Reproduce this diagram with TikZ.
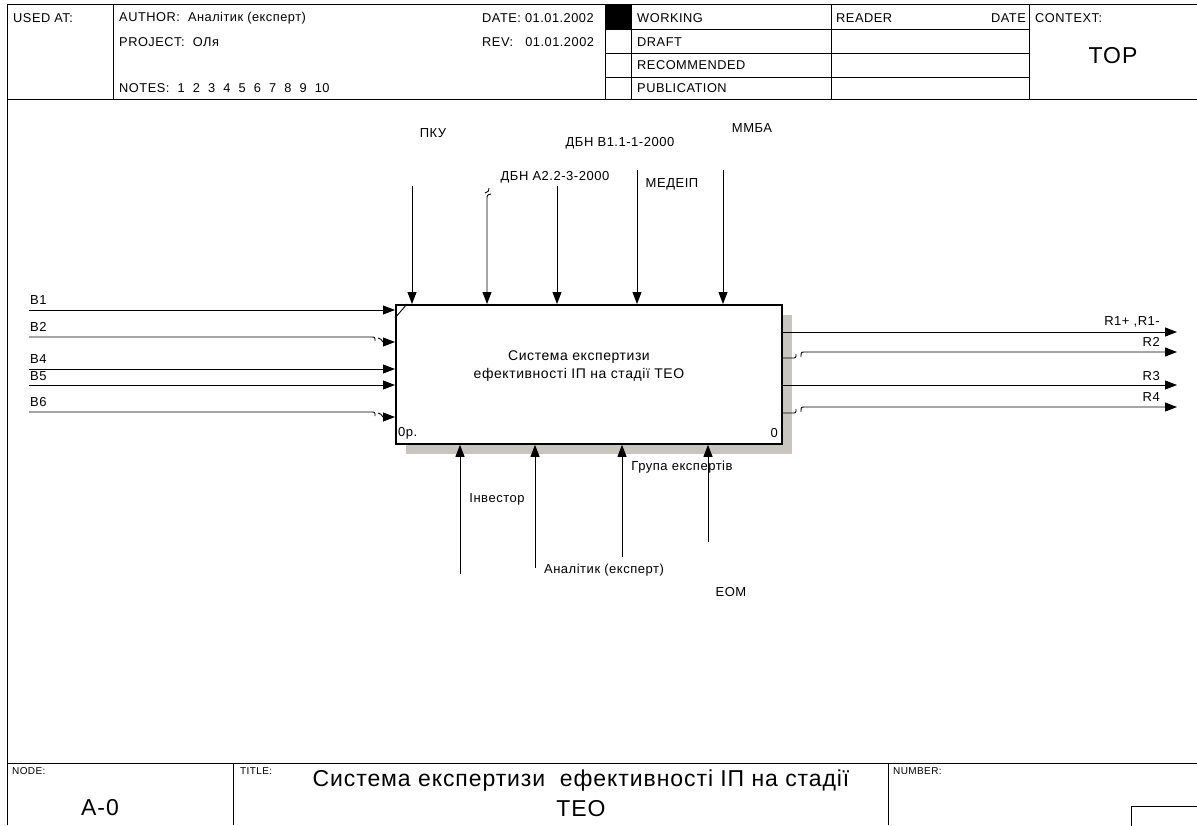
\documentclass[tikz,border=0pt]{standalone}
\usepackage{fontspec}
\setmainfont{Liberation Sans}[LetterSpace=4]
\usetikzlibrary{arrows.meta}
\definecolor{shadowgray}{RGB}{200,196,190}
\tikzset{
  sheet/.style = {draw=black, line width=0.8pt},
  afunc/.style = {draw=black, line width=1.8pt, fill=white, minimum width=386pt,
                  minimum height=139pt, inner sep=0pt, anchor=north west},
  flow/.style  = {-{Triangle[length=12pt,width=9pt]}, draw=black, line width=0.9pt},
  wire/.style  = {draw=black, line width=0.9pt},
  hdr/.style   = {font=\fontsize{12.8}{15}\selectfont, inner sep=0pt},
  alab/.style  = {font=\fontsize{13}{15}\selectfont, inner sep=0pt},
  flab/.style  = {font=\fontsize{10}{12}\selectfont, inner sep=0pt, anchor=west},
  big/.style   = {font=\fontsize{23}{30}\selectfont, inner sep=0pt},
}
\begin{document}
\begin{tikzpicture}[x=1pt, y=-1pt]
\useasboundingbox (0,0) rectangle (1197,825);

% ---------------- the sheet and its header ----------------------------
\draw[sheet] (7,825) -- (7,4) -- (1197,4);
\draw[sheet] (7,99) -- (1197,99);
\foreach \x in {113,605,631,831,1029}
  \draw[sheet] (\x,4) -- (\x,99);
\foreach \y in {29,53,77}
  \draw[sheet] (605,\y) -- (1029,\y);
\fill[black] (605,4) rectangle (631,29);

\node[hdr, anchor=west] (usedat)  at (13,18)  {USED AT:};
\node[hdr, anchor=west] (author)  at (119,18) {AUTHOR:\ \ Аналітик (експерт)};
\node[hdr, anchor=west] (project) at (119,42) {PROJECT:\ \ ОЛя};
\node[hdr, anchor=west] (notes)   at (119,88) {NOTES:\ \ 1\ \ 2\ \ 3\ \ 4\ \ 5\ \ 6\ \ 7\ \ 8\ \ 9\ \ 10};
\node[hdr, anchor=west] (date)    at (482,18) {DATE: 01.01.2002};
\node[hdr, anchor=west] (rev)     at (482,42) {REV:\ \ \ 01.01.2002};
\node[hdr, anchor=west] (working) at (637,18) {WORKING};
\node[hdr, anchor=west] (draft)   at (637,42) {DRAFT};
\node[hdr, anchor=west] (recomm)  at (637,65) {RECOMMENDED};
\node[hdr, anchor=west] (publ)    at (637,88) {PUBLICATION};
\node[hdr, anchor=west] (reader)  at (836,18) {READER};
\node[hdr, anchor=east] (rdate)   at (1026,18) {DATE};
\node[hdr, anchor=west] (context) at (1035,18) {CONTEXT:};
\node[big] (top) at (1113,56) {TOP};

% ---------------- the function box ------------------------------------
\fill[shadowgray] (406,315) rectangle (792,454);
\node[afunc] (func) at (395,304) {};
\draw[wire] ([yshift=-14pt]func.north west) -- ([xshift=12pt]func.north west);
\node[font=\fontsize{14}{18}\selectfont, align=center, inner sep=0pt] (ftext) at (579,366)
  {Система експертизи\\ефективності ІП на стадії ТЕО};
\node[alab, anchor=west] (fnum)  at (398,433) {0р.};
\node[alab, anchor=east] (fcost) at (778,433) {0};

% ---------------- inputs ----------------------------------------------
\foreach \n/\y in {1/310,4/369,5/385} {
  \coordinate (b\n) at (29,\y);
  \draw[flow] (b\n) -- (b\n -| func.west);
}
\coordinate (b2) at (29,337);
\coordinate (b2e) at (383,342);
\draw[wire] (b2) -- (371,337) .. controls (375,337) .. (375,341);
\draw[flow] (378,338) .. controls (381,339) .. (b2e) -- (b2e -| func.west);
\coordinate (b6) at (29,412);
\coordinate (b6e) at (383,417);
\draw[wire] (b6) -- (371,412) .. controls (375,412) .. (375,416);
\draw[flow] (378,413) .. controls (381,414) .. (b6e) -- (b6e -| func.west);

\node[alab, anchor=west] (lb1) at (30,300) {B1};
\node[alab, anchor=west] (lb2) at (30,327) {B2};
\node[alab, anchor=west] (lb4) at (30,359) {B4};
\node[alab, anchor=west] (lb5) at (30,376) {B5};
\node[alab, anchor=west] (lb6) at (30,402) {B6};

% ---------------- controls --------------------------------------------
\foreach \n/\x/\y in {1/412/186,3/557/186,4/637/170,5/723/170} {
  \coordinate (c\n) at (\x,\y);
  \draw[flow] (c\n) -- (c\n |- func.north);
}
\coordinate (c2) at (487,199);
\draw[flow] (491,194) .. controls (487,195) .. (c2) -- (c2 |- func.north);
\draw[wire] (485,193) .. controls (489,191) .. (489,188);

\node[alab] (lc1) at (433,133) {ПКУ};
\node[alab] (lc2) at (555,177) {ДБН А2.2-3-2000};
\node[alab] (lc3) at (620,143) {ДБН В1.1-1-2000};
\node[alab] (lc4) at (672,184) {МЕДЕІП};
\node[alab] (lc5) at (752,128) {ММБА};

% ---------------- outputs ---------------------------------------------
\foreach \n/\y in {1/332,3/385} {
  \coordinate (r\n) at (1177,\y);
  \draw[flow] (r\n -| func.east) -- (r\n);
}
\coordinate (r2) at (1177,352);
\draw[wire] (func.east |- 0,358) -- (792,358) .. controls (796,358) .. (796,354);
\draw[flow] (801,357) .. controls (801,352) .. (805,352) -- (r2);
\coordinate (r4) at (1177,407);
\draw[wire] (func.east |- 0,413) -- (792,413) .. controls (796,413) .. (796,409);
\draw[flow] (801,412) .. controls (801,407) .. (805,407) -- (r4);

\node[alab, anchor=east] (lr1) at (1160,322) {R1+ ,R1-};
\node[alab, anchor=east] (lr2) at (1160,342) {R2};
\node[alab, anchor=east] (lr3) at (1160,376) {R3};
\node[alab, anchor=east] (lr4) at (1160,397) {R4};

% ---------------- mechanisms ------------------------------------------
\foreach \n/\x/\y in {1/460/574,2/535/568,3/622/557,4/708/542} {
  \coordinate (m\n) at (\x,\y);
  \draw[flow] (m\n) -- (m\n |- func.south);
}
\node[alab] (lm1) at (497,499) {Інвестор};
\node[alab] (lm2) at (604,570) {Аналітик (експерт)};
\node[alab] (lm3) at (682,467) {Група експертів};
\node[alab] (lm4) at (731,592) {ЕОМ};

% ---------------- footer ----------------------------------------------
\draw[sheet] (7,763) -- (1197,763);
\draw[sheet] (233,763) -- (233,825);
\draw[sheet] (888,763) -- (888,825);
\draw[sheet] (1131,830) -- (1131,806) -- (1200,806);
\node[flab] (nodel)   at (12,771)  {NODE:};
\node[flab] (titlel)  at (240,771) {TITLE:};
\node[flab] (numberl) at (893,771) {NUMBER:};
\node[big] (nodeid) at (100,808) {А-0};
\node[big, align=center] (title) at (581,793)
  {Система експертизи\ \ ефективності ІП на стадії\\ТЕО};

\end{tikzpicture}
\end{document}
